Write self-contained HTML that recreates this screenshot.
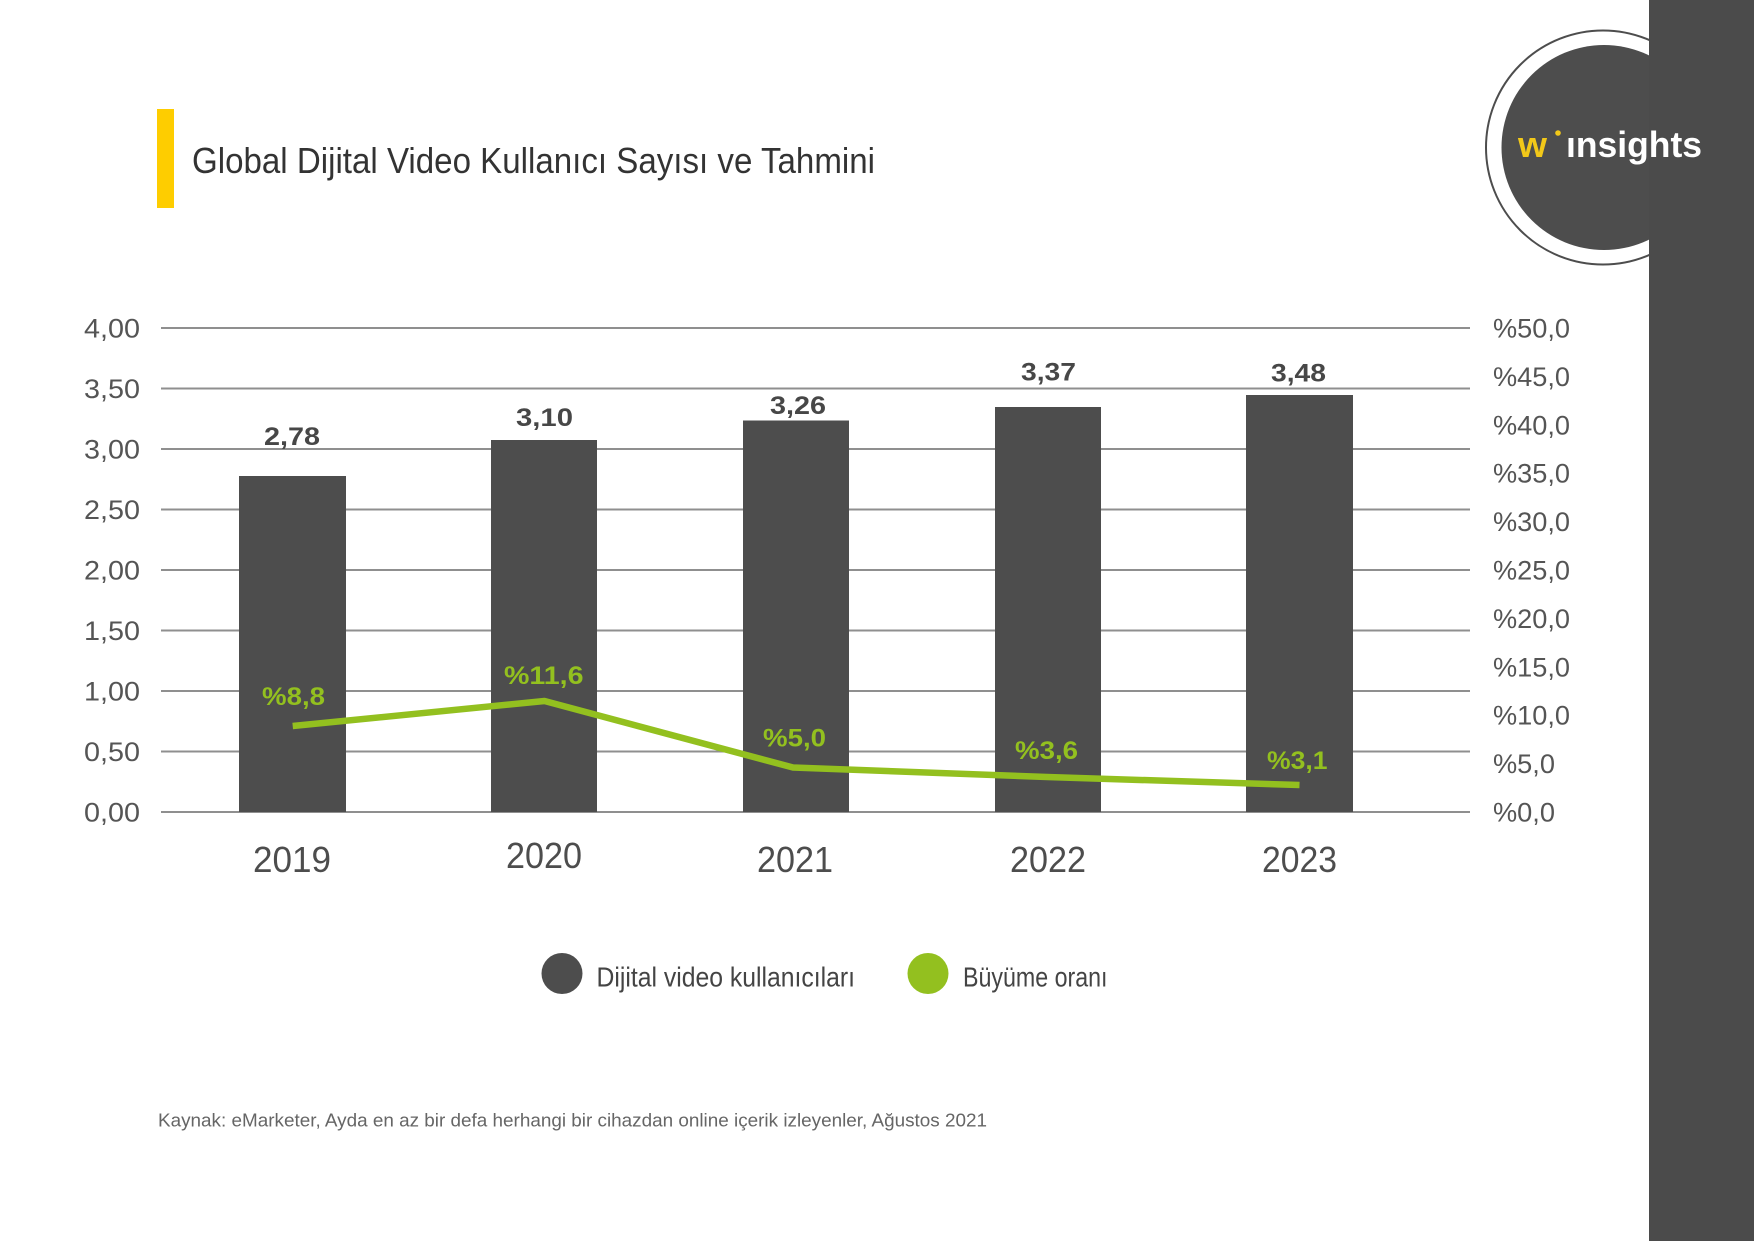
<!DOCTYPE html>
<html>
<head>
<meta charset="utf-8">
<style>
  html,body{margin:0;padding:0;background:#ffffff;}
  body{width:1754px;height:1241px;overflow:hidden;}
  svg{display:block;}
  text{font-family:"Liberation Sans", "DejaVu Sans", sans-serif;}
</style>
</head>
<body>
<svg width="1754" height="1241" viewBox="0 0 1754 1241" xmlns="http://www.w3.org/2000/svg">
  <rect x="0" y="0" width="1754" height="1241" fill="#ffffff"/>

  <!-- Logo circle -->
  <circle cx="1603" cy="147.5" r="117" fill="none" stroke="#4d4d4d" stroke-width="2"/>
  <circle cx="1604" cy="147.5" r="102.5" fill="#4d4d4d"/>
  <!-- Right dark panel -->
  <rect x="1649" y="0" width="105" height="1241" fill="#4b4b4b"/>
  <!-- Logo text -->
  <text x="1518" y="157" font-size="36" font-weight="bold" fill="#f2c819" textLength="29" lengthAdjust="spacingAndGlyphs">w</text>
  <circle cx="1558" cy="133" r="2.8" fill="#f2c819"/>
  <text x="1566" y="157" font-size="36" font-weight="bold" fill="#ffffff" textLength="136" lengthAdjust="spacingAndGlyphs">ınsights</text>

  <!-- Title -->
  <rect x="157" y="109" width="17" height="99" fill="#fecd00"/>
  <text x="192" y="173" font-size="36" fill="#333333" textLength="683" lengthAdjust="spacingAndGlyphs">Global Dijital Video Kullanıcı Sayısı ve Tahmini</text>

  <!-- Gridlines -->
  <g stroke="#8f8f8f" stroke-width="2">
    <line x1="161" y1="812" x2="1470" y2="812"/>
    <line x1="161" y1="751.5" x2="1470" y2="751.5"/>
    <line x1="161" y1="691" x2="1470" y2="691"/>
    <line x1="161" y1="630.5" x2="1470" y2="630.5"/>
    <line x1="161" y1="570" x2="1470" y2="570"/>
    <line x1="161" y1="509.5" x2="1470" y2="509.5"/>
    <line x1="161" y1="449" x2="1470" y2="449"/>
    <line x1="161" y1="388.5" x2="1470" y2="388.5"/>
    <line x1="161" y1="328" x2="1470" y2="328"/>
  </g>

  <!-- Left axis labels -->
  <g font-size="26.5" fill="#555555">
    <text x="84" y="337.7" textLength="56" lengthAdjust="spacingAndGlyphs">4,00</text>
    <text x="84" y="398.2" textLength="56" lengthAdjust="spacingAndGlyphs">3,50</text>
    <text x="84" y="458.7" textLength="56" lengthAdjust="spacingAndGlyphs">3,00</text>
    <text x="84" y="519.2" textLength="56" lengthAdjust="spacingAndGlyphs">2,50</text>
    <text x="84" y="579.7" textLength="56" lengthAdjust="spacingAndGlyphs">2,00</text>
    <text x="84" y="640.2" textLength="56" lengthAdjust="spacingAndGlyphs">1,50</text>
    <text x="84" y="700.7" textLength="56" lengthAdjust="spacingAndGlyphs">1,00</text>
    <text x="84" y="761.2" textLength="56" lengthAdjust="spacingAndGlyphs">0,50</text>
    <text x="84" y="821.7" textLength="56" lengthAdjust="spacingAndGlyphs">0,00</text>
  </g>

  <!-- Right axis labels -->
  <g font-size="26.5" fill="#555555">
    <text x="1493" y="337.5" textLength="77" lengthAdjust="spacingAndGlyphs">%50,0</text>
    <text x="1493" y="385.9" textLength="77" lengthAdjust="spacingAndGlyphs">%45,0</text>
    <text x="1493" y="434.3" textLength="77" lengthAdjust="spacingAndGlyphs">%40,0</text>
    <text x="1493" y="482.7" textLength="77" lengthAdjust="spacingAndGlyphs">%35,0</text>
    <text x="1493" y="531.1" textLength="77" lengthAdjust="spacingAndGlyphs">%30,0</text>
    <text x="1493" y="579.5" textLength="77" lengthAdjust="spacingAndGlyphs">%25,0</text>
    <text x="1493" y="627.9" textLength="77" lengthAdjust="spacingAndGlyphs">%20,0</text>
    <text x="1493" y="676.3" textLength="77" lengthAdjust="spacingAndGlyphs">%15,0</text>
    <text x="1493" y="724.7" textLength="77" lengthAdjust="spacingAndGlyphs">%10,0</text>
    <text x="1493" y="773.1" textLength="62" lengthAdjust="spacingAndGlyphs">%5,0</text>
    <text x="1493" y="821.5" textLength="62" lengthAdjust="spacingAndGlyphs">%0,0</text>
  </g>

  <!-- Bars -->
  <g fill="#4d4d4d">
    <rect x="239" y="476" width="107" height="336"/>
    <rect x="491" y="440" width="106" height="372"/>
    <rect x="743" y="420.5" width="106" height="391.5"/>
    <rect x="995" y="407" width="106" height="405"/>
    <rect x="1246" y="395" width="107" height="417"/>
  </g>

  <!-- Bar value labels -->
  <g font-size="25" font-weight="bold" fill="#474747">
    <text x="264" y="445" textLength="56" lengthAdjust="spacingAndGlyphs">2,78</text>
    <text x="516" y="426" textLength="57" lengthAdjust="spacingAndGlyphs">3,10</text>
    <text x="770" y="414" textLength="56" lengthAdjust="spacingAndGlyphs">3,26</text>
    <text x="1021" y="380.5" textLength="55" lengthAdjust="spacingAndGlyphs">3,37</text>
    <text x="1271" y="381.5" textLength="55" lengthAdjust="spacingAndGlyphs">3,48</text>
  </g>

  <!-- Growth line -->
  <polyline points="292.7,726 544.5,701 793,767.5 1047,777 1299.5,785" fill="none" stroke="#93c01f" stroke-width="6.5" stroke-linejoin="round" stroke-linecap="butt"/>

  <!-- Growth labels -->
  <g font-size="25" font-weight="bold" fill="#93c01f">
    <text x="262" y="705" textLength="63" lengthAdjust="spacingAndGlyphs">%8,8</text>
    <text x="504" y="684" textLength="79.5" lengthAdjust="spacingAndGlyphs">%11,6</text>
    <text x="763" y="746.7" textLength="63" lengthAdjust="spacingAndGlyphs">%5,0</text>
    <text x="1015" y="759" textLength="63" lengthAdjust="spacingAndGlyphs">%3,6</text>
    <text x="1267" y="769" textLength="60.5" lengthAdjust="spacingAndGlyphs">%3,1</text>
  </g>

  <!-- Year labels -->
  <g font-size="36" fill="#4d4d4d">
    <text x="253" y="872" textLength="78" lengthAdjust="spacingAndGlyphs">2019</text>
    <text x="506" y="868" textLength="76" lengthAdjust="spacingAndGlyphs">2020</text>
    <text x="757" y="872" textLength="76" lengthAdjust="spacingAndGlyphs">2021</text>
    <text x="1010" y="872" textLength="76" lengthAdjust="spacingAndGlyphs">2022</text>
    <text x="1262" y="872" textLength="75" lengthAdjust="spacingAndGlyphs">2023</text>
  </g>

  <!-- Legend -->
  <circle cx="562" cy="973.5" r="20.5" fill="#4d4d4d"/>
  <text x="596.5" y="986.7" font-size="27.5" fill="#444444" textLength="258.5" lengthAdjust="spacingAndGlyphs">Dijital video kullanıcıları</text>
  <circle cx="928" cy="973.5" r="20.5" fill="#93c01f"/>
  <text x="963" y="986.7" font-size="27.5" fill="#444444" textLength="144.5" lengthAdjust="spacingAndGlyphs">Büyüme oranı</text>

  <!-- Source -->
  <text x="158" y="1126.7" font-size="18" fill="#666666" textLength="829" lengthAdjust="spacingAndGlyphs">Kaynak: eMarketer, Ayda en az bir defa herhangi bir cihazdan online içerik izleyenler, Ağustos 2021</text>
</svg>
</body>
</html>
